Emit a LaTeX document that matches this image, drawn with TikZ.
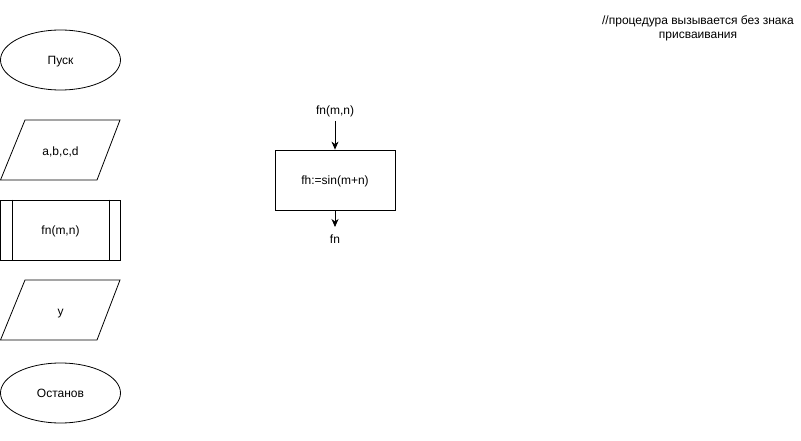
\documentclass[tikz,border=0pt]{standalone}
\usepackage{fontspec}
\setmainfont{Liberation Sans}
\usetikzlibrary{shapes.geometric,shapes.misc,arrows.meta}
\begin{document}
\begin{tikzpicture}[x=1pt,y=-1pt,
  every node/.style={font=\fontsize{12}{14}\selectfont},
  txt/.style={text height=8.6pt,text depth=0pt},
  lbl/.style={inner sep=0pt,txt},
  term/.style={ellipse,draw,line width=0.8pt,minimum width=120pt,minimum height=60pt,inner sep=0pt,txt},
  io/.style={draw,line width=0.8pt},
  proc/.style={draw,line width=0.8pt,minimum width=120pt,minimum height=60pt,inner sep=0pt,txt},
  arr/.style={line width=0.8pt,-{Stealth[length=8pt,width=7pt,inset=2.5pt]}}]
\useasboundingbox (0,0) rectangle (801,441);
% terminals
\node[term] (start) at (60.5,60) {Пуск};
\node[term] (stop) at (60.5,393) {Останов};
% input parallelogram
\draw[io] (25,120) -- (120,120) -- (97,180) -- (0.5,180) -- cycle;
\node[lbl] (inp) at (60.5,151) {a,b,c,d};
% predefined process
\node[proc] (sub) at (60.5,230) {fn(m,n)};
\draw[line width=0.8pt] ([xshift=12pt]sub.north west) -- ([xshift=12pt]sub.south west);
\draw[line width=0.8pt] ([xshift=-12pt]sub.north east) -- ([xshift=-12pt]sub.south east);
% output parallelogram
\draw[io] (25,280) -- (120,280) -- (97,340) -- (0.5,340) -- cycle;
\node[lbl] (outp) at (60.5,311) {y};
% procedure
\node[lbl] (fin) at (335,110) {fn(m,n)};
\node[proc] (body) at (335,180) {fh:=sin(m+n)};
\node[lbl] (fout) at (335,239) {fn};
\coordinate (a1) at (335,121);
\coordinate (b1) at (335,227);
\draw[arr] (a1) -- (body.north);
\draw[arr] (body.south) -- (b1);
% comment
\node[inner sep=0pt,align=center] (note) at (698,28) {//процедура вызывается без знака\\присваивания};
\end{tikzpicture}
\end{document}
